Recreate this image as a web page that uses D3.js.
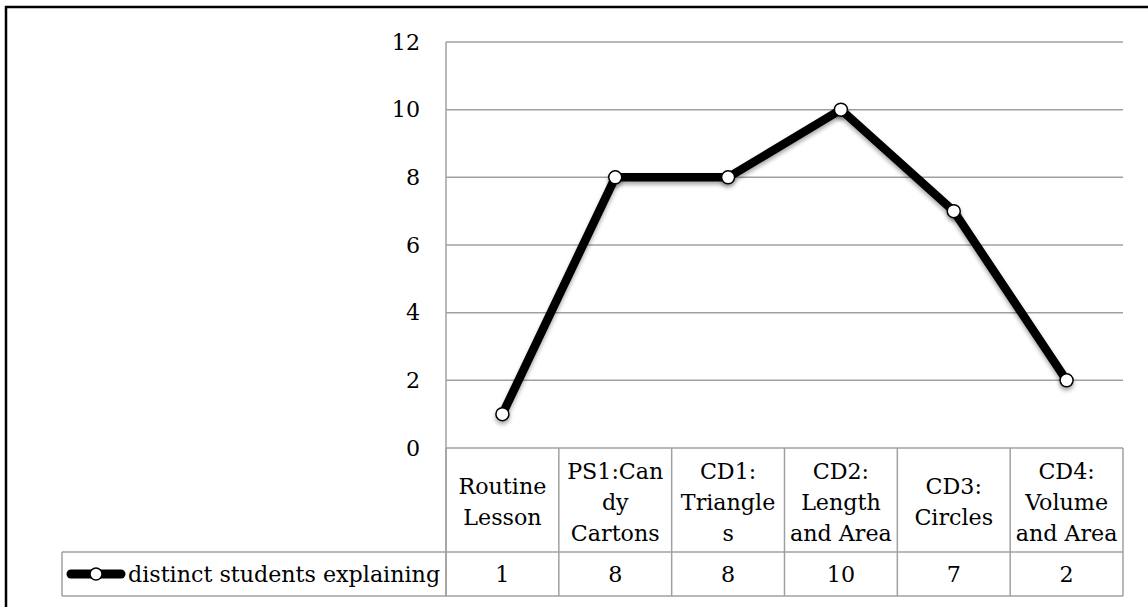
<!DOCTYPE html>
<html>
<head>
<meta charset="utf-8">
<script src="https://cdn.jsdelivr.net/npm/d3@7"></script>
<style>
  html, body { margin: 0; padding: 0; background: #fff; }
  svg { display: block; }
  text { font-family: "DejaVu Serif", "Liberation Serif", serif; fill: #000; }
</style>
</head>
<body>
<svg id="chart" width="1148" height="607"></svg>
<script>
// Lessons (category columns), each label split into its wrapped lines
const categories = [
  ["Routine", "Lesson"],
  ["PS1:Can", "dy", "Cartons"],
  ["CD1:", "Triangle", "s"],
  ["CD2:", "Length", "and Area"],
  ["CD3:", "Circles"],
  ["CD4:", "Volume", "and Area"]
];
const seriesName = "distinct students explaining";
const values = [1, 8, 8, 10, 7, 2];
const yTicks = [0, 2, 4, 6, 8, 10, 12];

(function draw() {
  const svg = d3.select("#chart");
  const W = 1148, H = 607;
  const fontSize = 22.2;

  // Plot geometry
  const plotL = 446, plotR = 1123, plotT = 42, plotB = 448;
  const headerB = 552, rowB = 596, legendL = 62;
  const gridColor = "#a0a0a0";

  const x = d3.scaleBand().domain(d3.range(categories.length)).range([plotL, plotR]).padding(0);
  const y = d3.scaleLinear().domain([0, 12]).range([plotB, plotT]);
  const cx = i => x(i) + x.bandwidth() / 2;

  // Outer frame
  svg.append("rect")
    .attr("x", 6).attr("y", 7)
    .attr("width", W + 20).attr("height", H + 20)
    .attr("fill", "none").attr("stroke", "#000").attr("stroke-width", 2.5);

  // Drop shadow for the series
  const defs = svg.append("defs");
  const f = defs.append("filter").attr("id", "shadow")
    .attr("x", "-60%").attr("y", "-60%").attr("width", "220%").attr("height", "260%");
  f.append("feGaussianBlur").attr("in", "SourceAlpha").attr("stdDeviation", 2.2).attr("result", "b");
  f.append("feOffset").attr("in", "b").attr("dx", 0).attr("dy", 3).attr("result", "o");
  f.append("feComponentTransfer").attr("in", "o").attr("result", "s")
    .append("feFuncA").attr("type", "linear").attr("slope", 0.35);
  const fm = f.append("feMerge");
  fm.append("feMergeNode").attr("in", "s");
  fm.append("feMergeNode").attr("in", "SourceGraphic");

  // Horizontal gridlines
  svg.append("g")
    .selectAll("line").data(yTicks).join("line")
    .attr("x1", plotL).attr("x2", plotR)
    .attr("y1", d => y(d)).attr("y2", d => y(d))
    .attr("stroke", gridColor).attr("stroke-width", 1.5);

  // Y axis line (runs down into the data table)
  svg.append("line")
    .attr("x1", plotL).attr("x2", plotL)
    .attr("y1", y(12)).attr("y2", rowB)
    .attr("stroke", gridColor).attr("stroke-width", 1.5);

  // Y tick labels
  svg.append("g")
    .selectAll("text").data(yTicks).join("text")
    .attr("x", 420).attr("y", d => y(d))
    .attr("dy", "0.35em")
    .attr("text-anchor", "end")
    .attr("font-size", fontSize)
    .text(d => d);

  // Data table grid
  const tbl = svg.append("g").attr("stroke", gridColor).attr("stroke-width", 1.5);
  d3.range(categories.length + 1).forEach(i => {
    const xx = i < categories.length ? x(i) : plotR;
    tbl.append("line").attr("x1", xx).attr("x2", xx).attr("y1", plotB).attr("y2", rowB);
  });
  tbl.append("line").attr("x1", legendL).attr("x2", plotR).attr("y1", headerB).attr("y2", headerB);
  tbl.append("line").attr("x1", legendL).attr("x2", plotR).attr("y1", rowB).attr("y2", rowB);
  tbl.append("line").attr("x1", legendL).attr("x2", legendL).attr("y1", headerB).attr("y2", rowB);

  // Category labels (header row)
  const lineH = 31;
  const headerMid = (plotB + headerB) / 2 + 2;
  categories.forEach((lines, i) => {
    const t = svg.append("text")
      .attr("text-anchor", "middle")
      .attr("font-size", fontSize);
    lines.forEach((ln, k) => {
      t.append("tspan")
        .attr("x", cx(i))
        .attr("y", headerMid + (k - (lines.length - 1) / 2) * lineH)
        .attr("dy", "0.35em")
        .text(ln);
    });
  });

  // Values row
  const rowMid = (headerB + rowB) / 2;
  svg.append("g")
    .selectAll("text").data(values).join("text")
    .attr("x", (d, i) => cx(i))
    .attr("y", rowMid)
    .attr("dy", "0.35em")
    .attr("text-anchor", "middle")
    .attr("font-size", fontSize)
    .text(d => d);

  // Legend key inside the table
  const ly = rowMid;
  svg.append("line")
    .attr("x1", 71).attr("x2", 121).attr("y1", ly).attr("y2", ly)
    .attr("stroke", "#000").attr("stroke-width", 9).attr("stroke-linecap", "round");
  svg.append("circle")
    .attr("cx", 96).attr("cy", ly).attr("r", 6)
    .attr("fill", "#fff").attr("stroke", "#000").attr("stroke-width", 1.5);
  svg.append("text")
    .attr("x", 128).attr("y", ly)
    .attr("dy", "0.35em")
    .attr("font-size", fontSize)
    .text(seriesName);

  // Series line
  const line = d3.line()
    .x((d, i) => cx(i))
    .y(d => y(d));
  svg.append("path")
    .datum(values)
    .attr("d", line)
    .attr("fill", "none")
    .attr("stroke", "#000")
    .attr("stroke-width", 8.5)
    .attr("stroke-linejoin", "round")
    .attr("filter", "url(#shadow)");

  // Markers
  svg.append("g")
    .selectAll("circle").data(values).join("circle")
    .attr("cx", (d, i) => cx(i))
    .attr("cy", d => y(d))
    .attr("r", 6.5)
    .attr("fill", "#fff")
    .attr("stroke", "#000")
    .attr("stroke-width", 1.5)
    .attr("filter", "url(#shadow)");
})();
</script>
</body>
</html>
